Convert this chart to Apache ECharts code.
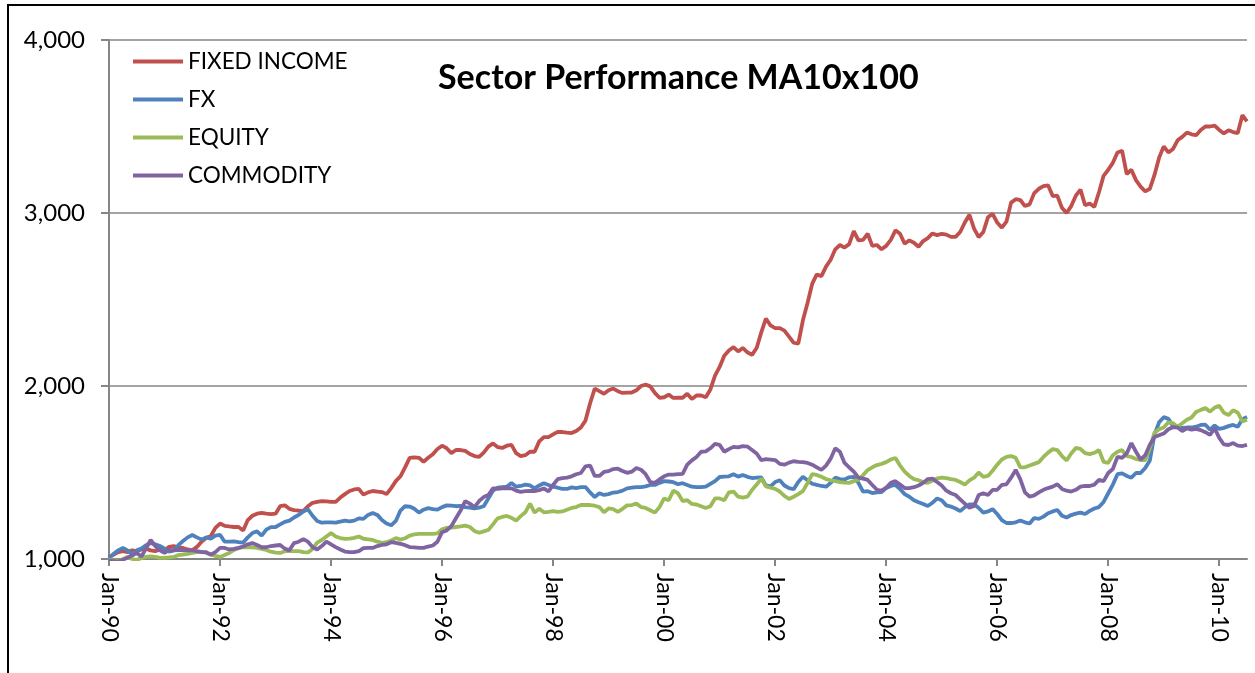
<!DOCTYPE html>
<html>
<head>
<meta charset="utf-8">
<title>Sector Performance MA10x100</title>
<script src="https://cdn.jsdelivr.net/npm/echarts@6/dist/echarts.min.js"></script>
<style>
  html, body { margin: 0; padding: 0; background: #fff; }
  #chart { width: 1255px; height: 673px; }
</style>
</head>
<body>
<div id="chart"></div>
<script>
// monthly points, Jan-1990 .. Jul-2010
const monthNames = ['Jan', 'Feb', 'Mar', 'Apr', 'May', 'Jun', 'Jul', 'Aug', 'Sep', 'Oct', 'Nov', 'Dec'];
const startYear = 1990;
const pointCount = 247;
const categories = [];
for (let i = 0; i < pointCount; i++) {
  const y = startYear + Math.floor(i / 12);
  categories.push(monthNames[i % 12] + '-' + String(y).slice(2));
}

const seriesNames = ['FIXED INCOME', 'FX', 'EQUITY', 'COMMODITY'];
const seriesColors = ['#C0504D', '#4F81BD', '#9BBB59', '#8064A2'];
const yTicks = [1000, 2000, 3000, 4000];

const fixedIncome = [
  1010, 1025, 1040, 1045, 1040, 1050, 1045, 1055, 1060, 1050, 1045, 1055,
  1050, 1070, 1075, 1065, 1064, 1055, 1050, 1070, 1100, 1121, 1133, 1180,
  1205, 1192, 1188, 1185, 1185, 1165, 1225, 1250, 1262, 1266, 1262, 1260,
  1262, 1305, 1310, 1290, 1283, 1280, 1277, 1305, 1325, 1330, 1335, 1333,
  1330, 1330, 1355, 1375, 1393, 1402, 1405, 1372, 1385, 1393, 1390, 1387,
  1375, 1410, 1450, 1478, 1530, 1584, 1588, 1585, 1562, 1585, 1605, 1636,
  1655, 1640, 1612, 1630, 1630, 1625, 1607, 1595, 1590, 1615, 1650, 1668,
  1647, 1642, 1655, 1660, 1612, 1595, 1600, 1620, 1620, 1680, 1705, 1705,
  1720, 1735, 1734, 1730, 1728, 1740, 1760, 1800, 1900, 1985, 1970, 1955,
  1975, 1985, 1970, 1960, 1962, 1962, 1975, 2000, 2008, 1998, 1960, 1932,
  1935, 1950, 1931, 1932, 1932, 1955, 1925, 1945, 1945, 1935, 1980, 2060,
  2110, 2175, 2205, 2225, 2200, 2220, 2195, 2180, 2220, 2310, 2390, 2350,
  2335, 2335, 2320, 2285, 2250, 2245, 2380, 2480, 2590, 2645, 2635, 2690,
  2730, 2790, 2815, 2800, 2820, 2895, 2842, 2845, 2880, 2810, 2815, 2790,
  2810, 2845, 2900, 2880, 2822, 2842, 2828, 2805, 2838, 2855, 2882, 2872,
  2880, 2875, 2862, 2862, 2890, 2945, 2990, 2910, 2860, 2890, 2975, 2995,
  2945, 2915, 2950, 3060, 3080, 3075, 3040, 3050, 3115, 3140, 3155, 3160,
  3098, 3100, 3030, 3000, 3040, 3100, 3135, 3045, 3055, 3035, 3120, 3215,
  3250, 3290, 3350, 3360, 3225, 3250, 3190, 3152, 3125, 3140, 3220, 3320,
  3385, 3350, 3370, 3420, 3440, 3465, 3455, 3450, 3480, 3500, 3500, 3505,
  3480, 3460, 3478, 3468, 3462, 3565, 3530
];

const fx = [
  1005, 1030, 1050, 1064, 1050, 1025, 1050, 1060, 1080, 1092, 1085, 1075,
  1060, 1042, 1050, 1080, 1104, 1125, 1139, 1125, 1112, 1125, 1118, 1135,
  1140, 1100, 1100, 1102, 1097, 1095, 1125, 1150, 1160, 1135, 1170, 1184,
  1185, 1200, 1215, 1222, 1240, 1255, 1275, 1287, 1250, 1220, 1210, 1212,
  1212, 1210, 1216, 1222, 1218, 1222, 1235, 1232, 1255, 1266, 1255, 1225,
  1205, 1195, 1220, 1280, 1305, 1303, 1290, 1268, 1285, 1294, 1288, 1285,
  1300, 1310, 1308, 1305, 1307, 1300, 1297, 1293, 1297, 1305, 1350, 1395,
  1412, 1415, 1418, 1440, 1418, 1422, 1430, 1425, 1408, 1425, 1438, 1428,
  1418, 1412, 1405, 1405, 1414, 1410, 1415, 1416, 1385, 1358, 1380, 1370,
  1375, 1384, 1387, 1395, 1408, 1412, 1416, 1416, 1420, 1428, 1428, 1440,
  1450, 1448, 1444, 1432, 1438, 1428, 1418, 1415, 1416, 1418, 1434, 1450,
  1474, 1476, 1478, 1490, 1476, 1486, 1475, 1468, 1470, 1472, 1425, 1420,
  1445, 1455, 1425, 1410, 1403, 1445, 1475, 1455, 1435, 1428, 1422, 1418,
  1440, 1470, 1462, 1460, 1472, 1475, 1440, 1390, 1392, 1381, 1385, 1387,
  1410, 1422, 1428, 1405, 1375, 1360, 1340, 1328, 1318, 1306, 1325, 1350,
  1340, 1310, 1303, 1292, 1277, 1300, 1315, 1316, 1295, 1268, 1275, 1288,
  1260, 1225, 1208, 1208, 1212, 1222, 1212, 1205, 1237, 1232, 1245, 1265,
  1275, 1283, 1250, 1240, 1254, 1262, 1268, 1260, 1278, 1292, 1300, 1330,
  1380, 1430, 1490, 1495, 1480, 1470, 1497, 1497, 1526, 1570, 1720, 1790,
  1820, 1810, 1768, 1763, 1758, 1760, 1760, 1765, 1775, 1776, 1748, 1772,
  1752, 1758, 1768, 1775, 1765, 1808, 1821
];

const equity = [
  995, 992, 990, 1000, 1012, 1000, 995, 1005, 1012, 1015, 1012, 1006,
  1006, 1010, 1012, 1023, 1026, 1030, 1035, 1040, 1042, 1035, 1025, 1018,
  1012, 1023, 1035, 1052, 1062, 1069, 1068, 1067, 1064, 1058, 1052, 1042,
  1037, 1035, 1045, 1046, 1046, 1046, 1040, 1038, 1058, 1095, 1110, 1130,
  1150, 1130, 1121, 1116, 1118, 1122, 1130, 1117, 1114, 1110, 1100, 1093,
  1097, 1106, 1121, 1112, 1120, 1135, 1142, 1145, 1145, 1145, 1145, 1148,
  1172, 1180, 1182, 1185, 1188, 1193, 1185, 1162, 1152, 1160, 1168, 1200,
  1235, 1243, 1249, 1238, 1222, 1248, 1270, 1320, 1268, 1290, 1270, 1272,
  1277, 1272, 1275, 1285, 1295, 1300, 1312, 1312, 1312, 1308, 1300, 1270,
  1292, 1288, 1272, 1290, 1310, 1312, 1320, 1300, 1295, 1282, 1268, 1300,
  1350, 1340, 1395, 1380, 1335, 1340, 1318, 1315, 1305, 1295, 1305, 1350,
  1350, 1340, 1385, 1390, 1360, 1355, 1360, 1399, 1430, 1465, 1420, 1412,
  1405, 1390, 1365, 1347, 1360, 1375, 1392, 1439, 1490, 1486, 1475, 1462,
  1455, 1450, 1445, 1442, 1440, 1450, 1458, 1485, 1514, 1530, 1543, 1550,
  1560, 1575, 1584, 1540, 1505, 1480, 1462, 1455, 1445, 1440, 1452, 1466,
  1470, 1468, 1462, 1457, 1445, 1430, 1455, 1470, 1500, 1475, 1480, 1510,
  1545, 1575, 1590, 1595, 1585, 1530, 1530, 1540, 1550, 1560, 1590, 1615,
  1635, 1630, 1595, 1570, 1610, 1642, 1636, 1612, 1606, 1614, 1630, 1562,
  1556, 1600, 1620, 1630, 1594, 1590, 1578, 1572, 1572, 1640, 1730, 1750,
  1760, 1790, 1785, 1765, 1785, 1805, 1818, 1850, 1862, 1872, 1852, 1875,
  1885, 1845, 1832, 1860, 1846, 1795, 1805
];

const commodity = [
  990, 988, 985, 995, 1008, 1020, 1035, 1015, 1060, 1110, 1075, 1050,
  1035, 1052, 1050, 1052, 1052, 1050, 1050, 1045, 1040, 1040, 1025, 1040,
  1064, 1064, 1055, 1058, 1064, 1072, 1085, 1092, 1081, 1068, 1068, 1075,
  1078, 1081, 1060, 1050, 1092, 1100, 1115, 1100, 1069, 1055, 1075, 1100,
  1085, 1069, 1055, 1043, 1040, 1040, 1045, 1063, 1064, 1064, 1075, 1081,
  1085, 1097, 1093, 1088, 1080, 1069, 1067, 1064, 1064, 1072, 1078, 1100,
  1155, 1165, 1190, 1235, 1280, 1335, 1320, 1300, 1335, 1358, 1370, 1408,
  1406, 1408, 1410, 1408, 1395, 1388, 1392, 1393, 1393, 1398, 1408, 1390,
  1428, 1462, 1468, 1470, 1478, 1490, 1497, 1535, 1540, 1480, 1480, 1503,
  1508, 1520, 1522, 1509, 1498, 1505, 1526, 1516, 1490, 1445, 1440, 1460,
  1478, 1488, 1488, 1490, 1492, 1545, 1570, 1590, 1620, 1622, 1640, 1665,
  1660, 1620, 1635, 1648, 1645, 1652, 1650, 1630, 1610, 1572, 1577, 1575,
  1572, 1550, 1545, 1557, 1565, 1562, 1560, 1555, 1545, 1530, 1515, 1540,
  1580, 1640, 1620, 1555, 1530, 1505, 1470, 1465, 1457, 1428, 1400, 1395,
  1412, 1440, 1450, 1430, 1410, 1410, 1415, 1425, 1440, 1462, 1465, 1445,
  1425, 1395, 1380, 1370, 1345, 1320, 1296, 1306, 1370, 1380, 1370, 1399,
  1400, 1428, 1432, 1470, 1515, 1460, 1385, 1360, 1368, 1385, 1400, 1410,
  1418, 1432, 1405, 1395, 1390, 1400, 1418, 1422, 1422, 1430, 1457, 1450,
  1497, 1520, 1590, 1584, 1610, 1670, 1620, 1575, 1600, 1660, 1705, 1715,
  1725, 1750, 1762, 1760, 1740, 1755, 1748, 1752, 1745, 1733, 1718, 1755,
  1700, 1662, 1659, 1670, 1655, 1653, 1660
];

const seriesData = [fixedIncome, fx, equity, commodity];

const FONT = 'Lato, "Liberation Sans", sans-serif';
const showEvery24 = (idx) => idx % 24 === 0;

const chart = echarts.init(document.getElementById('chart'));

const option = {
  animation: false,
  backgroundColor: '#ffffff',
  textStyle: { fontFamily: FONT, color: '#000' },
  title: {
    text: 'Sector Performance MA10x100',
    left: 433,
    top: 56,
    textStyle: { fontSize: 34, fontWeight: 'bold', color: '#000', fontFamily: FONT }
  },
  legend: {
    orient: 'vertical',
    left: 128,
    top: 45,
    icon: 'rect',
    itemWidth: 50,
    itemHeight: 4,
    itemGap: 15,
    textStyle: { fontSize: 22.5, lineHeight: 23, color: '#000', fontFamily: FONT },
    data: seriesNames
  },
  grid: { left: 109, right: 8, top: 40, bottom: 114 },
  xAxis: {
    type: 'category',
    boundaryGap: false,
    data: categories,
    axisLine: { lineStyle: { color: '#868686', width: 2 } },
    axisTick: { interval: showEvery24, length: 7, lineStyle: { color: '#868686', width: 2 } },
    axisLabel: {
      interval: showEvery24,
      rotate: -90,
      margin: 14,
      fontSize: 23,
      color: '#000',
      fontFamily: FONT
    }
  },
  yAxis: {
    type: 'value',
    min: yTicks[0],
    max: yTicks[yTicks.length - 1],
    interval: 1000,
    axisLine: { show: true, lineStyle: { color: '#868686', width: 2 } },
    axisTick: { show: true, length: 8, lineStyle: { color: '#868686', width: 2 } },
    splitLine: { lineStyle: { color: '#868686', width: 1.5 } },
    axisLabel: {
      margin: 24,
      fontSize: 24,
      color: '#000',
      fontFamily: FONT,
      formatter: (v) => v.toLocaleString('en-US')
    }
  },
  graphic: [{
    type: 'rect',
    shape: { x: 8, y: 5, width: 1300, height: 700 },
    style: { fill: 'none', stroke: '#000', lineWidth: 2 },
    silent: true
  }],
  series: seriesNames.map((name, i) => ({
    name: name,
    type: 'line',
    data: seriesData[i],
    symbol: 'none',
    color: seriesColors[i],
    lineStyle: { width: 3.8, color: seriesColors[i] }
  }))
};

chart.setOption(option);
window.addEventListener('resize', () => chart.resize());
</script>
</body>
</html>
